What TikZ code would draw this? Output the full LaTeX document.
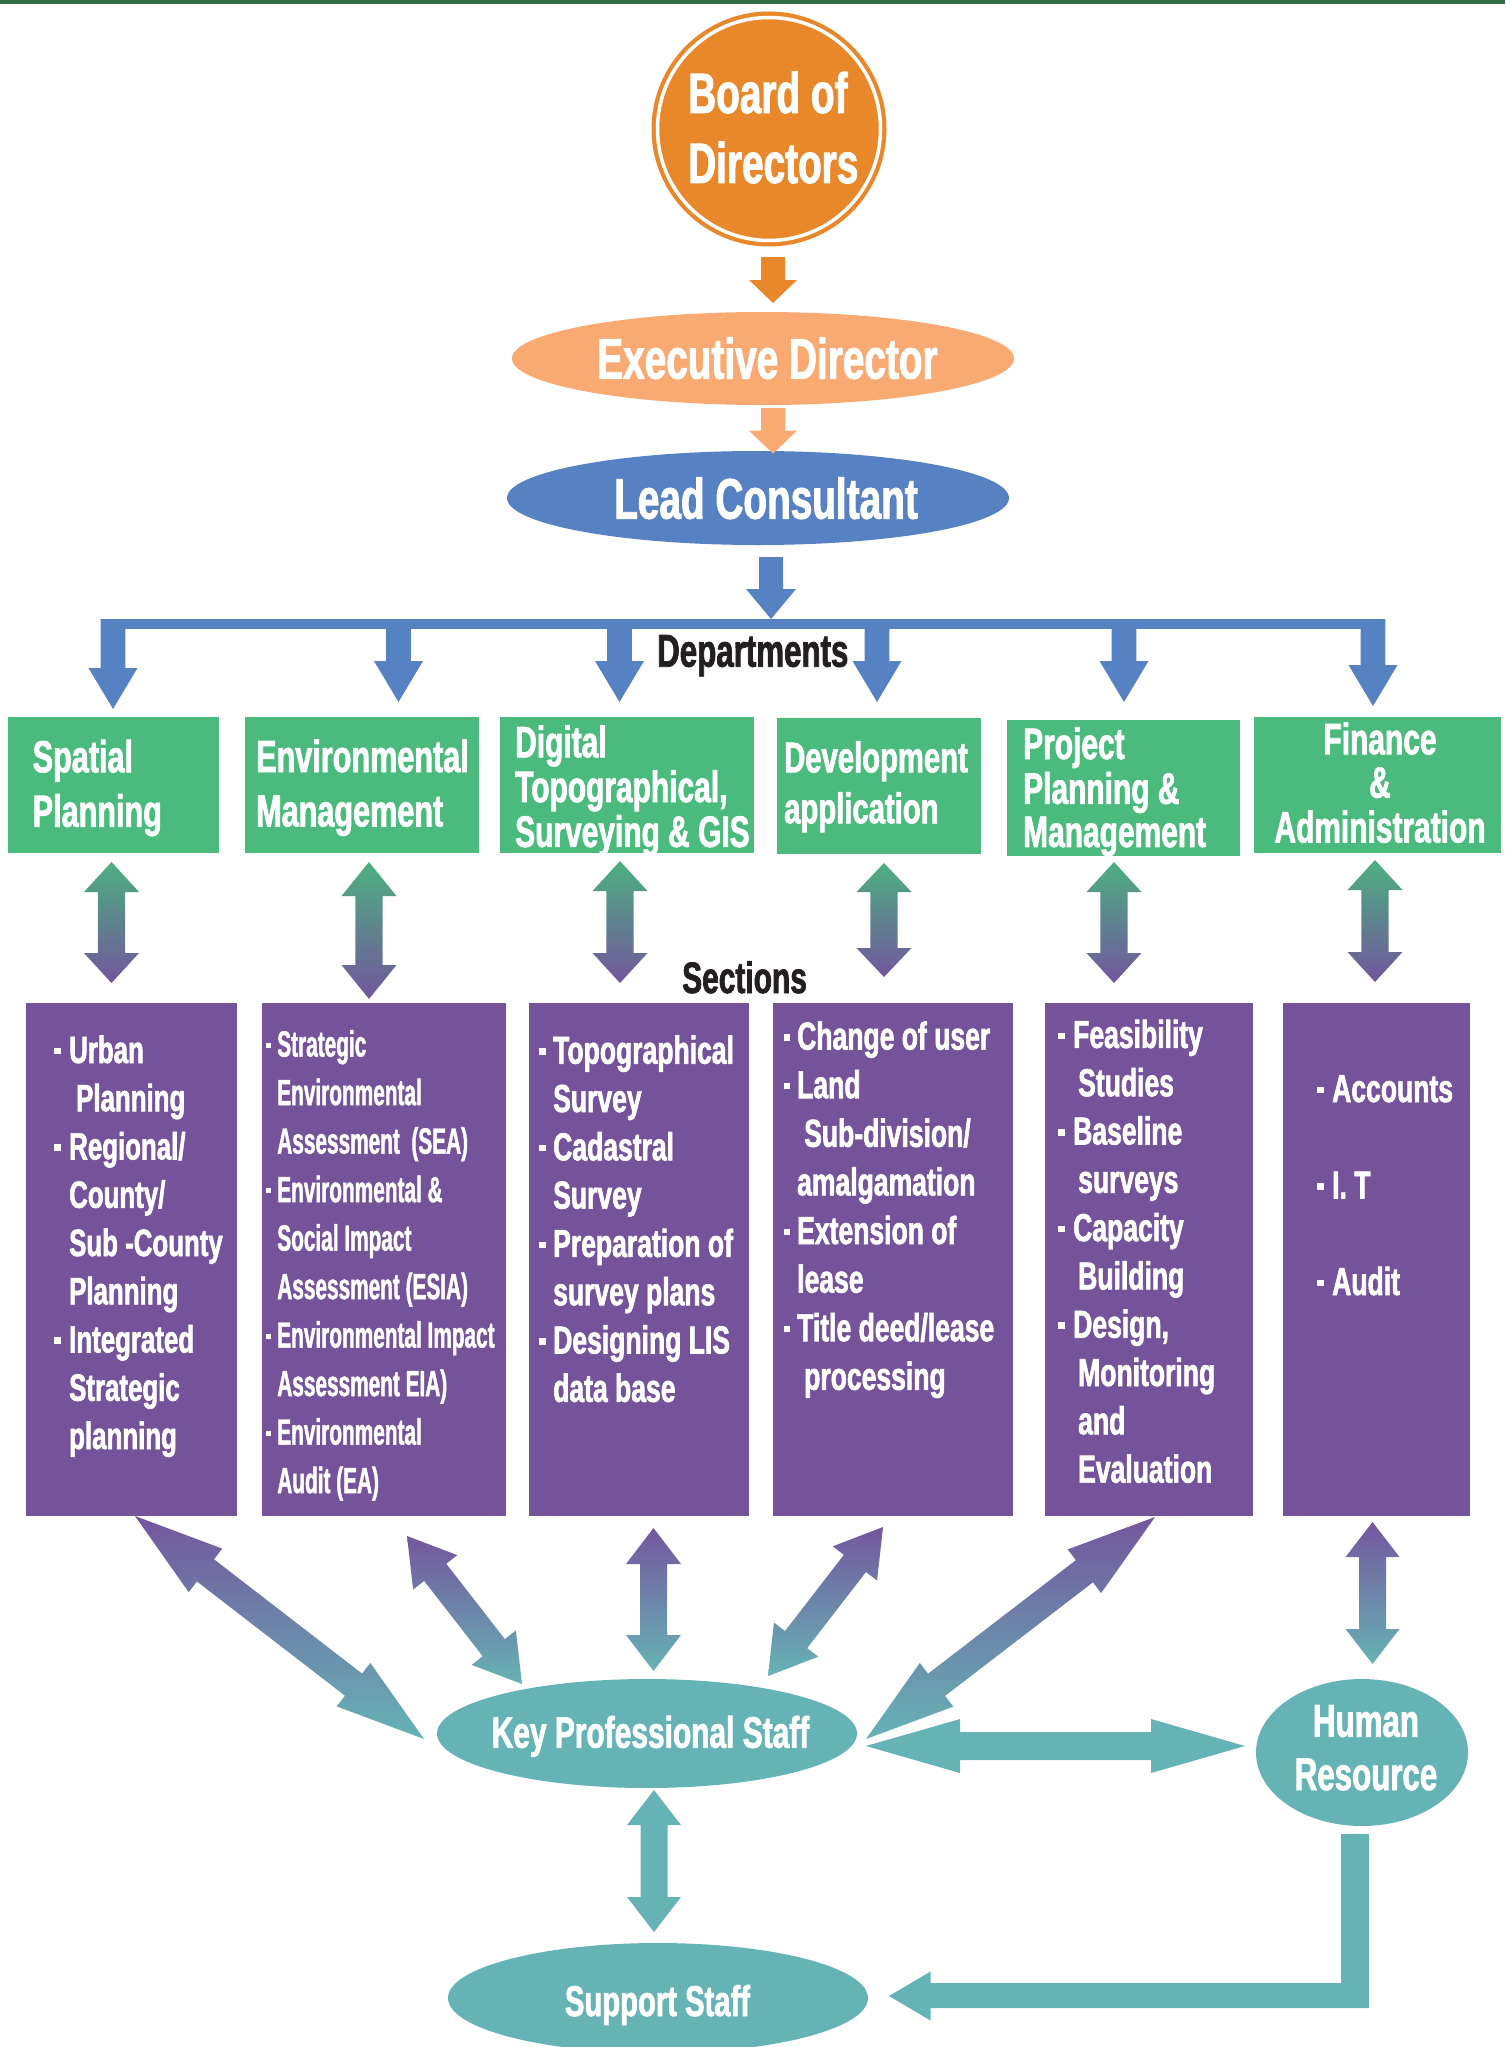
\documentclass[tikz,border=0pt]{standalone}
\usepackage{fontspec}
\usetikzlibrary{calc,shapes.geometric}
\newfontfamily\cf[FakeStretch=0.68,FakeBold=1.6]{Liberation Sans}
\newfontfamily\cfn[FakeStretch=0.57,FakeBold=1.2]{Liberation Sans}
\definecolor{topline}{HTML}{2F6E43}
\definecolor{orgA}{HTML}{E8882B}
\definecolor{orgB}{HTML}{F8AA72}
\definecolor{blueA}{HTML}{5682C4}
\definecolor{greenA}{HTML}{4ABB7C}
\definecolor{purpA}{HTML}{74539B}
\definecolor{tealA}{HTML}{66B3B6}
\definecolor{inkA}{HTML}{231F20}
\definecolor{gpTop}{RGB}{76,176,128}
\definecolor{gpBot}{RGB}{114,85,157}
\definecolor{ptTop}{RGB}{116,86,158}
\definecolor{ptBot}{RGB}{102,179,181}
% double-headed block arrow: #1 tip A, #2 tip B, #3 half shaft, #4 half head, #5 head length, #6 style
\newcommand\dblarr[6]{%
\coordinate (tmpa) at ($(#1)!#5pt!(#2)$);
\coordinate (tmpb) at ($(#2)!#5pt!(#1)$);
\path[#6] (#1) -- ($(tmpa)!#4pt!90:(#2)$) -- ($(tmpa)!#3pt!90:(#2)$)
 -- ($(tmpb)!#3pt!-90:(#1)$) -- ($(tmpb)!#4pt!-90:(#1)$) -- (#2)
 -- ($(tmpb)!#4pt!90:(#1)$) -- ($(tmpb)!#3pt!90:(#1)$)
 -- ($(tmpa)!#3pt!-90:(#2)$) -- ($(tmpa)!#4pt!-90:(#2)$) -- cycle;}
% single block arrow: #1 tail, #2 tip
\newcommand\sarr[6]{%
\coordinate (tmpb) at ($(#2)!#5pt!(#1)$);
\path[#6] ($(#1)!#3pt!90:(#2)$) -- ($(tmpb)!#3pt!-90:(#1)$) -- ($(tmpb)!#4pt!-90:(#1)$)
 -- (#2) -- ($(tmpb)!#4pt!90:(#1)$) -- ($(tmpb)!#3pt!90:(#1)$) -- ($(#1)!#3pt!-90:(#2)$) -- cycle;}
\newcommand\rbox[6]{\node[#1, minimum width={(#4-#2)*1pt}, minimum height={(#5-#3)*1pt}] (#6) at ({(#2+#4)/2},{(#3+#5)/2}) {};}
\newcommand\tl[3]{\fontsize{#1}{#2}\selectfont\begin{tabular}[t]{@{}l@{}}#3\end{tabular}}
\newcommand\tc[3]{\fontsize{#1}{#2}\selectfont\begin{tabular}[t]{@{}c@{}}#3\end{tabular}}
\newcommand\bul[2]{\rule[9pt]{#1pt}{#1pt}\hspace*{#2pt}}
\newcommand\ind[1]{\hspace*{#1pt}}
\tikzset{
 gbox/.style={rectangle, fill=greenA, inner sep=0, draw=none},
 pbox/.style={rectangle, fill=purpA, inner sep=0, draw=none},
 wt/.style={text=white, inner sep=0, font=\cf\bfseries},
 bt/.style={text=inkA, inner sep=0, font=\cf\bfseries},
 ell/.style={ellipse, inner sep=0, draw=none},
 gp/.style={top color=gpTop, bottom color=gpBot},
 pt/.style={top color=ptTop, bottom color=ptBot},
}
\begin{document}
\begin{tikzpicture}[x=1pt,y=-1pt]
\useasboundingbox (0,0) rectangle (1505,2047);
\fill[white] (0,0) rectangle (1505,2047);
\fill[topline] (0,0) rectangle (1505,3.7);
% ---- top hierarchy
\node[circle, fill=orgA, minimum size=235pt, inner sep=0] (board) at (769,129) {};
\draw[white, line width=3.5pt] (board.center) circle[radius=111.5pt];
\node[wt, anchor=base west] (boardt) at (688,113) {\tl{57}{70}{Board of\\Directors}};
\node[ell, fill=orgB, minimum width=502pt, minimum height=93pt] (exec) at (763,358.5) {};
\node[wt, anchor=base] (exect) at (767.5,378.6) {\fontsize{57}{60}\selectfont Executive Director};
\node[ell, fill=blueA, minimum width=502pt, minimum height=94pt] (lead) at (758,498) {};
\node[wt, anchor=base] (leadt) at (766,518.6) {\fontsize{57}{60}\selectfont Lead Consultant};
\coordinate (a1s) at (773,257); \coordinate (a1e) at (773,303);
\sarr{a1s}{a1e}{12}{24}{23}{fill=orgA}
\coordinate (a2s) at (773,408); \coordinate (a2e) at (773,453.6);
\sarr{a2s}{a2e}{12}{24}{23}{fill=orgB}
\coordinate (a3s) at (771,557); \coordinate (a3e) at (771,619);
\sarr{a3s}{a3e}{12}{25}{30}{fill=blueA}
% ---- bus
\fill[blueA] (101,619) rectangle (1385,629);
\foreach \n/\x/\t in {1/113/709,2/398.5/702,3/619.5/702,4/877/702,5/1124/702,6/1373/706}{
 \coordinate (bs\n) at (\x,619); \coordinate (be\n) at (\x,\t);
 \sarr{bs\n}{be\n}{12.3}{24.5}{41}{fill=blueA}
}
\node[bt, anchor=base west] (dept) at (657,666.7) {\fontsize{46}{50}\selectfont Departments};
% ---- departments
\rbox{gbox}{8}{717}{219}{853}{g1}
\rbox{gbox}{245}{717}{479}{853}{g2}
\rbox{gbox}{500}{717}{754}{853}{g3}
\rbox{gbox}{777}{718}{981}{854}{g4}
\rbox{gbox}{1007}{720}{1240}{856}{g5}
\rbox{gbox}{1254}{717}{1501}{853}{g6}
\node[wt, anchor=base west] (g1t) at (32.5,772.3) {\tl{45}{54.4}{Spatial\\Planning}};
\node[wt, anchor=base west] (g2t) at (256,772) {\tl{45}{54.4}{Environmental\\Management}};
\node[wt, anchor=base west] (g3t) at (515,757.3) {\tl{44}{43}{Digital\\Topographical,\\Surveying \& GIS}};
\node[wt, anchor=base west] (g4t) at (784,772.3) {\tl{43}{51}{Development\\application}};
\node[wt, anchor=base west] (g5t) at (1023,759) {\tl{44}{43}{Project\\Planning \&\\Management}};
\node[wt, anchor=base] (g6t) at (1380,754.3) {\tc{44}{43}{Finance\\\&\\Administration}};
% ---- dept <-> section arrows
\foreach \n/\x/\a/\b/\h in {1/111.5/862/983/30,2/369/862/999/34,3/620/861/983/30,4/884/863/977/29,5/1114/862/983/30,6/1375/860/982/30}{
 \coordinate (ua\n) at (\x,\a); \coordinate (ub\n) at (\x,\b);
 \dblarr{ua\n}{ub\n}{13.7}{27.5}{\h}{gp}
}
\node[bt, anchor=base west] (sect) at (682,993) {\fontsize{44}{48}\selectfont Sections};
% ---- sections
\rbox{pbox}{26}{1003}{237}{1516}{p1}
\rbox{pbox}{262}{1003}{506}{1516}{p2}
\rbox{pbox}{529}{1003}{749}{1516}{p3}
\rbox{pbox}{773}{1003}{1013}{1516}{p4}
\rbox{pbox}{1045}{1003}{1253}{1516}{p5}
\rbox{pbox}{1283}{1003}{1470}{1516}{p6}
\node[wt, anchor=base west] (p1t) at (54,1063) {\tl{38}{48.25}{%
\bul{6.5}{8.5}Urban\\
\ind{22}Planning\\
\bul{6.5}{8.5}Regional/\\
\ind{15}County/\\
\ind{15}Sub -County\\
\ind{15}Planning\\
\bul{6.5}{8.5}Integrated\\
\ind{15}Strategic\\
\ind{15}planning}};
\node[wt, anchor=base west, font=\cfn\bfseries] (p2t) at (265.6,1056.6) {\tl{36.5}{48.5}{%
\bul{5}{6.5}Strategic\\
\ind{11.5}Environmental\\
\ind{11.5}Assessment\ \ (SEA)\\
\bul{5}{6.5}Environmental \&\\
\ind{11.5}Social Impact\\
\ind{11.5}Assessment (ESIA)\\
\bul{5}{6.5}Environmental Impact\\
\ind{11.5}Assessment EIA)\\
\bul{5}{6.5}Environmental\\
\ind{11.5}Audit (EA)}};
\node[wt, anchor=base west] (p3t) at (539,1063.7) {\tl{39}{48.3}{%
\bul{6.3}{7.7}Topographical\\
\ind{14}Survey\\
\bul{6.3}{7.7}Cadastral\\
\ind{14}Survey\\
\bul{6.3}{7.7}Preparation of\\
\ind{14}survey plans\\
\bul{6.3}{7.7}Designing LIS\\
\ind{14}data base}};
\node[wt, anchor=base west] (p4t) at (784,1049.6) {\tl{39}{48.6}{%
\bul{6.2}{6.8}Change of user\\
\bul{6.2}{6.8}Land\\
\ind{20}Sub-division/\\
\ind{13}amalgamation\\
\bul{6.2}{6.8}Extension of\\
\ind{13}lease\\
\bul{6.2}{6.8}Title deed/lease\\
\ind{20}processing}};
\node[wt, anchor=base west] (p5t) at (1058,1047.9) {\tl{39}{48.3}{%
\bul{6.4}{8.6}Feasibility\\
\ind{20}Studies\\
\bul{6.4}{8.6}Baseline\\
\ind{20}surveys\\
\bul{6.4}{8.6}Capacity\\
\ind{20}Building\\
\bul{6.4}{8.6}Design,\\
\ind{20}Monitoring\\
\ind{20}and\\
\ind{20}Evaluation}};
\node[wt, anchor=base west] (p6t) at (1317,1102) {\tl{39}{48.25}{%
\bul{6.3}{8.7}Accounts\\
\\
\bul{6.3}{8.7}I. T\\
\\
\bul{6.3}{8.7}Audit}};
% ---- staff
\node[ell, fill=tealA, minimum width=420pt, minimum height=109pt] (kps) at (647,1733.5) {};
\node[wt, anchor=base] (kpst) at (650.5,1747.7) {\fontsize{44}{48}\selectfont Key Professional Staff};
\node[ell, fill=tealA, minimum width=212pt, minimum height=147pt] (hr) at (1362,1752.5) {};
\node[wt, anchor=base] (hrt) at (1366,1736.7) {\tc{46}{53.3}{Human\\Resource}};
\node[ell, fill=tealA, minimum width=420pt, minimum height=110pt] (sup) at (658,1998) {};
\node[wt, anchor=base] (supt) at (657.5,2016) {\fontsize{43}{48}\selectfont Support Staff};
% ---- section <-> staff arrows
\coordinate (k1a) at (135,1516); \coordinate (k1b) at (424,1739);
\dblarr{k1a}{k1b}{14}{27.5}{89}{pt}
\coordinate (k2a) at (407,1536); \coordinate (k2b) at (522,1684);
\dblarr{k2a}{k2b}{14}{28}{46}{pt}
\coordinate (k3a) at (653.5,1528); \coordinate (k3b) at (653.5,1671);
\dblarr{k3a}{k3b}{13.5}{27.5}{36}{pt}
\coordinate (k4a) at (883,1527); \coordinate (k4b) at (768,1676);
\dblarr{k4a}{k4b}{14}{28}{46}{pt}
\coordinate (k5a) at (1155,1517); \coordinate (k5b) at (866,1739);
\dblarr{k5a}{k5b}{14}{27.5}{89}{pt}
\coordinate (k6a) at (1372.5,1522); \coordinate (k6b) at (1372.5,1664);
\dblarr{k6a}{k6b}{13.5}{27}{35}{pt}
% ---- teal connectors
\coordinate (h1a) at (866,1746); \coordinate (h1b) at (1245,1746);
\dblarr{h1a}{h1b}{14}{27}{94}{fill=tealA}
\coordinate (v1a) at (654,1790); \coordinate (v1b) at (654,1932);
\dblarr{v1a}{v1b}{13.5}{27}{35}{fill=tealA}
\coordinate (hro) at (1355,1834); \coordinate (ssi) at (889,1996);
\fill[tealA] ($(hro)+(-14,0)$) -- ($(hro)+(14,0)$) -- ($(hro)+(14,174)$) -- ($(ssi)+(41.5,12)$)
 -- ($(ssi)+(41.5,24.5)$) -- (ssi) -- ($(ssi)+(41.5,-24.5)$) -- ($(ssi)+(41.5,-13)$)
 -- ($(hro)+(-14,149)$) -- cycle;
\end{tikzpicture}
\end{document}
